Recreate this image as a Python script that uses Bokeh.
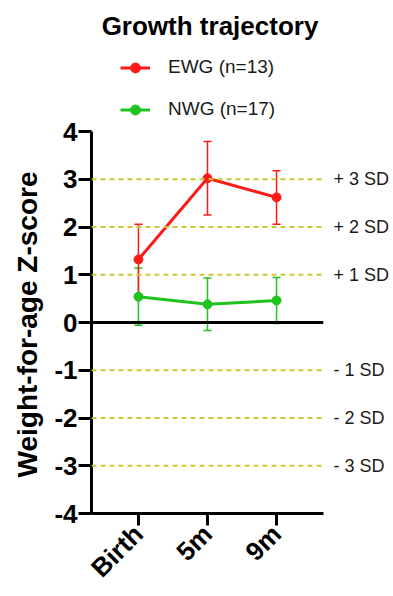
from bokeh.plotting import figure
from bokeh.models import (ColumnDataSource, Range1d, FixedTicker, LinearAxis, Span,
                          Whisker, TeeHead, Legend, LegendItem, Label, Title)
from bokeh.embed import file_html
from bokeh.resources import INLINE
import math

# ---- data ----
timepoints = ["Birth", "5m", "9m"]
x_pos = [1, 2, 3]
ewg_mean = [1.32, 3.02, 2.62]
ewg_sd = [0.74, 0.77, 0.56]
nwg_mean = [0.54, 0.38, 0.46]
nwg_sd = [0.60, 0.55, 0.48]
series_labels = ["EWG (n=13)", "NWG (n=17)"]
y_ticks = [-4, -3, -2, -1, 0, 1, 2, 3, 4]
sd_levels = [3, 2, 1, -1, -2, -3]
sd_labels = ["+ 3 SD", "+ 2 SD", "+ 1 SD", "- 1 SD", "- 2 SD", "- 3 SD"]
title_text = "Growth trajectory"
y_label = "Weight-for-age Z-score"

FONT = "Liberation Sans"
RED = "#FF1A1A"
GREEN = "#1FC21F"
REF = "#C8C832"

W, H = 393, 596
FRAME_L, FRAME_R, FRAME_T, FRAME_B = 90, 323, 131, 513
px_per_unit = (FRAME_B - FRAME_T) / 8.0
y_top = 4 + FRAME_T / px_per_unit   # frame extends to the top of the canvas

p = figure(width=W, height=H, output_backend="svg", toolbar_location=None, title=None,
           x_range=Range1d(0.32, 3.68), y_range=Range1d(-4, y_top),
           min_border_left=FRAME_L, min_border_right=W - FRAME_R,
           min_border_top=0, min_border_bottom=H - FRAME_B)
p.outline_line_color = None
p.xgrid.visible = False
p.ygrid.visible = False
p.background_fill_color = "white"
p.border_fill_color = "white"

# reference SD lines
for lv in sd_levels:
    p.add_layout(Span(location=lv, dimension="width", line_color=REF, line_width=2,
                      line_dash="5 4"))
p.add_layout(Span(location=0, dimension="width", line_color="black", line_width=3))

def add_series(mean, sd, color):
    src = ColumnDataSource(dict(x=x_pos, y=mean,
                                upper=[m + s for m, s in zip(mean, sd)],
                                lower=[m - s for m, s in zip(mean, sd)]))
    w = Whisker(source=src, base="x", upper="upper", lower="lower",
                line_color=color, line_width=1.5,
                upper_head=TeeHead(size=8, line_color=color, line_width=1.5),
                lower_head=TeeHead(size=8, line_color=color, line_width=1.5))
    p.add_layout(w)
    lr = p.line("x", "y", source=src, line_color=color, line_width=3)
    sr = p.scatter("x", "y", source=src, size=9, fill_color=color, line_color=color)
    return lr, sr

g_line, g_pts = add_series(nwg_mean, nwg_sd, GREEN)
r_line, r_pts = add_series(ewg_mean, ewg_sd, RED)

# axes
xa = p.xaxis[0]
xa.ticker = FixedTicker(ticks=x_pos)
xa.major_label_overrides = {x: t for x, t in zip(x_pos, timepoints)}
xa.major_label_orientation = math.pi / 4
xa.minor_tick_line_color = None
xa.major_tick_in = 0
xa.major_tick_out = 12
xa.major_tick_line_width = 3
xa.axis_line_width = 3
xa.major_label_text_font = FONT
xa.major_label_text_font_style = "bold"
xa.major_label_text_font_size = "26px"
xa.major_label_text_color = "black"
xa.major_label_standoff = 4

ya = p.yaxis[0]
ya.bounds = (-4, 4)
ya.ticker = FixedTicker(ticks=y_ticks)
ya.major_label_overrides = {t: str(t) for t in y_ticks}
ya.minor_tick_line_color = None
ya.major_tick_in = 0
ya.major_tick_out = 13
ya.major_tick_line_width = 3
ya.axis_line_width = 3
ya.major_label_text_font = FONT
ya.major_label_text_font_style = "bold"
ya.major_label_text_font_size = "26px"
ya.major_label_text_color = "black"
ya.major_label_standoff = 1

# y-axis title, placed along the -4..4 part of the axis
p.add_layout(Title(text=y_label, align="left", offset=FRAME_B - 477, standoff=18,
                   text_font=FONT, text_font_size="28px", text_font_style="bold",
                   text_color="black"), "left")

ra = LinearAxis(ticker=FixedTicker(ticks=sd_levels), bounds=(-4, 4),
                major_label_overrides={v: s for v, s in zip(sd_levels, sd_labels)})
ra.axis_line_color = None
ra.major_tick_line_color = None
ra.minor_tick_line_color = None
ra.major_tick_out = 0
ra.major_tick_in = 0
ra.major_label_standoff = 10
ra.major_label_text_font = FONT
ra.major_label_text_font_size = "18px"
ra.major_label_text_color = "#1a1a1a"
p.add_layout(ra, "right")

# title (inside the extended frame area)
p.add_layout(Label(x=208.5 - FRAME_L, y=FRAME_B - 25, x_units="screen", y_units="screen",
                   text=title_text, text_font=FONT, text_font_size="26px",
                   text_font_style="bold", text_align="center",
                   text_baseline="alphabetic", text_color="black"))

# legend
legend = Legend(items=[LegendItem(label=series_labels[0], renderers=[r_line, r_pts]),
                       LegendItem(label=series_labels[1], renderers=[g_line, g_pts])],
                location=(119 - FRAME_L, FRAME_B - 121.5), orientation="vertical",
                glyph_width=30, glyph_height=25, spacing=17, label_standoff=18,
                padding=0, margin=0, border_line_color=None, background_fill_alpha=0,
                label_text_font=FONT, label_text_font_size="19px", label_text_color="#1a1a1a")
p.add_layout(legend, "center")

open("out.html", "w").write(file_html(p, INLINE))
